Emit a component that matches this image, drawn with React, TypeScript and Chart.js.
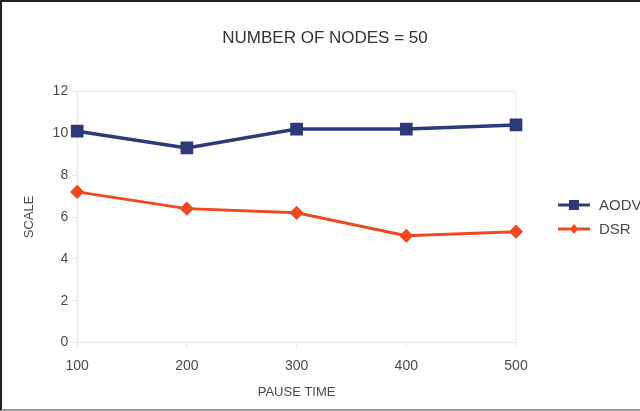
import React, { useEffect, useRef } from "react";
import { Chart, registerables } from "chart.js";
Chart.register(...registerables);

const pauseTimes = ["100", "200", "300", "400", "500"];
const aodv = [10.1, 9.3, 10.2, 10.2, 10.4];
const dsr = [7.2, 6.4, 6.2, 5.1, 5.3];
const yTicks = [0, 2, 4, 6, 8, 10, 12];
const seriesNames = ["AODV", "DSR"];

const AODV_COLOR = "#2c3a78";
const DSR_COLOR = "#ee4a22";
const FONT = "'Liberation Sans', Arial, sans-serif";
const TEXT = "#4a4a4a";

const frame = {
  id: "frame",
  beforeDatasetsDraw(chart: any) {
    const { ctx, chartArea } = chart;
    ctx.save();
    ctx.strokeStyle = "#ece8e8";
    ctx.lineWidth = 1;
    ctx.strokeRect(chartArea.left, chartArea.top, chartArea.right - chartArea.left, chartArea.bottom - chartArea.top);
    ctx.restore();
  },
};

const sideLegend = {
  id: "sideLegend",
  afterDraw(chart: any) {
    const { ctx, chartArea } = chart;
    const x0 = chartArea.right + 42;
    const midY = (chartArea.top + chartArea.bottom) / 2;
    const rowGap = 24;
    ctx.save();
    chart.data.datasets.forEach((d: any, i: number) => {
      const y = midY + (i - 0.5) * rowGap;
      ctx.strokeStyle = d.borderColor;
      ctx.fillStyle = d.borderColor;
      ctx.lineWidth = 3;
      ctx.beginPath();
      ctx.moveTo(x0, y);
      ctx.lineTo(x0 + 32, y);
      ctx.stroke();
      const cx = x0 + 16;
      if (d.pointStyle === "rect") {
        ctx.fillRect(cx - 5, y - 5, 10, 10);
      } else {
        ctx.beginPath();
        ctx.moveTo(cx, y - 5);
        ctx.lineTo(cx + 4, y);
        ctx.lineTo(cx, y + 5);
        ctx.lineTo(cx - 4, y);
        ctx.closePath();
        ctx.fill();
      }
      ctx.fillStyle = TEXT;
      ctx.font = `15px ${FONT}`;
      ctx.textBaseline = "middle";
      ctx.textAlign = "left";
      ctx.fillText(d.label, x0 + 41, y + 1);
    });
    ctx.restore();
  },
};

export default function App() {
  const ref = useRef<HTMLCanvasElement>(null);
  useEffect(() => {
    const chart = new Chart(ref.current!, {
      type: "line",
      data: {
        labels: pauseTimes,
        datasets: [
          {
            label: seriesNames[0],
            data: aodv,
            borderColor: AODV_COLOR,
            backgroundColor: AODV_COLOR,
            borderWidth: 3.5,
            pointStyle: "rect",
            pointRadius: 6.5,
            pointHoverRadius: 6.5,
            tension: 0,
          },
          {
            label: seriesNames[1],
            data: dsr,
            borderColor: DSR_COLOR,
            backgroundColor: DSR_COLOR,
            borderWidth: 3,
            pointStyle: "rectRot",
            pointRadius: 5,
            pointHoverRadius: 5,
            tension: 0,
          },
        ],
      },
      options: {
        animation: false,
        responsive: false,
        layout: { padding: { top: 14, right: 12, bottom: 9, left: 20 } },
        plugins: {
          title: {
            display: true,
            text: "NUMBER OF NODES = 50",
            color: "#333",
            font: { family: FONT, size: 17, weight: "normal" },
            padding: { top: 12, bottom: 43 },
          },
          legend: { display: false },
          tooltip: { enabled: false },
        },
        scales: {
          x: {
            offset: false,
            grid: { display: true, drawOnChartArea: false, drawTicks: true, tickLength: 5, color: "#ece8e8" },
            border: { display: true, color: "#ece8e8" },
            ticks: { color: TEXT, font: { family: FONT, size: 14 }, padding: 10 },
            title: {
              display: true,
              text: "PAUSE TIME",
              color: TEXT,
              font: { family: FONT, size: 13 },
              padding: { top: 0, bottom: 0 },
            },
          },
          y: {
            min: 0,
            max: 12,
            afterBuildTicks: (axis: any) => {
              axis.ticks = yTicks.map((v) => ({ value: v }));
            },
            grid: { display: true, drawOnChartArea: false, drawTicks: true, tickLength: 5, color: "#ece8e8" },
            border: { display: true, color: "#ece8e8" },
            ticks: { color: TEXT, font: { family: FONT, size: 14 }, padding: 4 },
            title: {
              display: true,
              text: "SCALE",
              color: TEXT,
              font: { family: FONT, size: 13 },
              padding: { top: 0, bottom: 11 },
            },
          },
          legendSpace: {
            type: "linear",
            position: "right",
            display: true,
            grid: { display: false },
            border: { display: false },
            ticks: { display: false },
            afterFit: (axis: any) => {
              axis.width = 112;
            },
          },
        },
      },
      plugins: [frame, sideLegend],
    });
    return () => chart.destroy();
  }, []);
  return (
    <div
      style={{
        position: "absolute",
        left: 0,
        top: 0,
        width: 640,
        height: 411,
        boxSizing: "border-box",
        borderLeft: "2px solid #222",
        borderTop: "2px solid #222",
        borderBottom: "2px solid #999",
        background: "#fff",
      }}
    >
      <canvas ref={ref} width={638} height={407} style={{ display: "block" }} />
    </div>
  );
}
